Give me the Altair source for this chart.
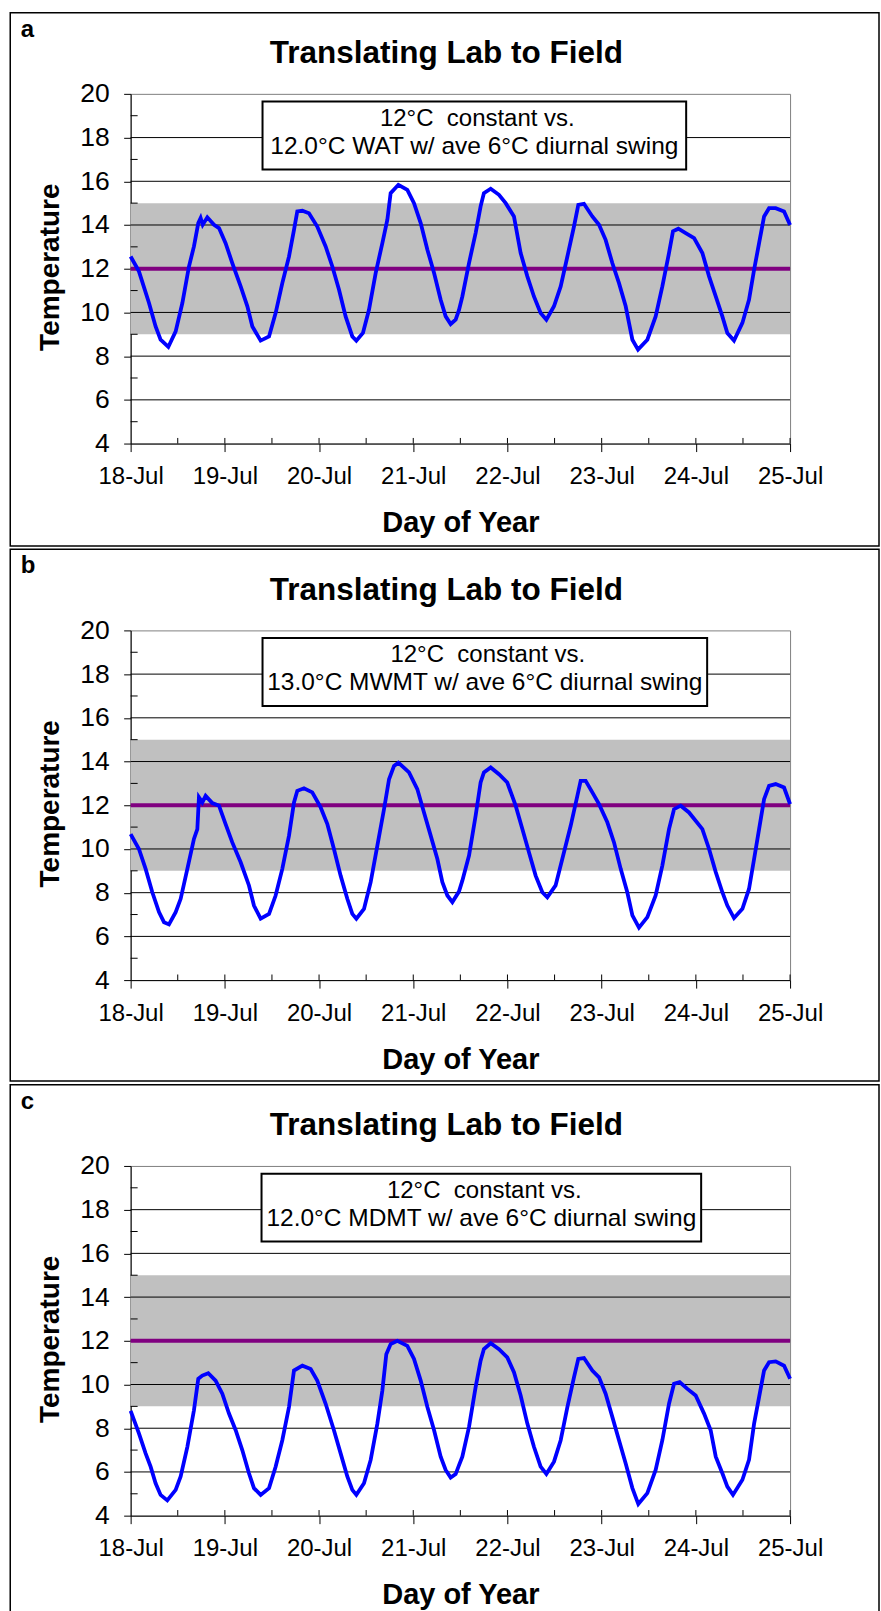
import altair as alt
import pandas as pd

FONT = "Liberation Sans"
W, H = 660, 350

chart_title = "Translating Lab to Field"
panel_letters = ["a", "b", "c"]
caption_top = "12°C\u00a0 constant vs."
caption_bottom = [
    "12.0°C WAT w/ ave 6°C diurnal swing",
    "13.0°C MWMT w/ ave 6°C diurnal swing",
    "12.0°C MDMT w/ ave 6°C diurnal swing",
]
tick_labels = ["18-Jul", "19-Jul", "20-Jul", "21-Jul", "22-Jul", "23-Jul", "24-Jul", "25-Jul"]
day_ticks = [0, 1, 2, 3, 4, 5, 6, 7]
half_day_ticks = [0.5, 1.5, 2.5, 3.5, 4.5, 5.5, 6.5]
y_ticks = [4, 6, 8, 10, 12, 14, 16, 18, 20]
grid_levels = [6, 8, 10, 12, 14, 16, 18]
minor_y = [5, 7, 9, 11, 13, 15, 17, 19]
band_low, band_high = 9, 15
constant_temp = 12

# (day since 18-Jul, temperature)
a_readings = [
    (0.000, 12.56), (0.088, 11.88), (0.195, 10.43), (0.265, 9.36), (0.318, 8.75),
    (0.400, 8.42), (0.478, 9.13), (0.549, 10.43), (0.619, 12.10), (0.672, 13.02),
    (0.718, 14.09), (0.743, 14.32), (0.765, 14.01), (0.814, 14.35), (0.885, 14.01),
    (0.938, 13.86), (1.008, 13.17), (1.079, 12.26), (1.168, 11.19), (1.239, 10.28),
    (1.292, 9.36), (1.380, 8.71), (1.469, 8.90), (1.539, 9.97), (1.610, 11.34),
    (1.681, 12.56), (1.734, 13.78), (1.769, 14.62), (1.823, 14.65), (1.893, 14.54),
    (1.981, 13.93), (2.070, 13.02), (2.141, 12.10), (2.212, 11.04), (2.282, 9.82),
    (2.353, 8.90), (2.396, 8.71), (2.466, 9.06), (2.530, 10.12), (2.601, 11.80),
    (2.672, 13.17), (2.725, 14.24), (2.760, 15.46), (2.842, 15.84), (2.937, 15.61),
    (3.008, 15.00), (3.079, 14.09), (3.150, 12.87), (3.221, 11.80), (3.291, 10.58),
    (3.344, 9.82), (3.397, 9.47), (3.450, 9.67), (3.485, 10.10), (3.521, 10.73),
    (3.592, 12.26), (3.662, 13.63), (3.715, 14.85), (3.750, 15.46), (3.822, 15.66),
    (3.910, 15.38), (3.981, 15.00), (4.069, 14.39), (4.140, 12.72), (4.211, 11.65),
    (4.281, 10.73), (4.352, 9.97), (4.413, 9.67), (4.494, 10.28), (4.565, 11.19),
    (4.636, 12.56), (4.706, 13.93), (4.752, 14.92), (4.812, 14.97), (4.901, 14.39),
    (4.972, 14.01), (5.042, 13.32), (5.113, 12.26), (5.184, 11.34), (5.255, 10.28),
    (5.290, 9.52), (5.326, 8.75), (5.386, 8.30), (5.485, 8.75), (5.573, 9.82),
    (5.644, 11.19), (5.715, 12.72), (5.757, 13.71), (5.814, 13.83), (5.892, 13.63),
    (5.981, 13.40), (6.069, 12.72), (6.140, 11.65), (6.211, 10.73), (6.281, 9.82),
    (6.334, 9.06), (6.405, 8.71), (6.494, 9.52), (6.564, 10.58), (6.618, 11.95),
    (6.671, 13.17), (6.724, 14.39), (6.777, 14.77), (6.847, 14.77), (6.936, 14.62),
    (7.000, 14.00),
]
b_readings = [
    (0.000, 10.68), (0.088, 10.00), (0.159, 9.09), (0.230, 8.02), (0.301, 7.11),
    (0.354, 6.65), (0.407, 6.55), (0.478, 7.11), (0.531, 7.72), (0.602, 9.09),
    (0.672, 10.46), (0.708, 10.91), (0.725, 12.36), (0.761, 12.13), (0.796, 12.43),
    (0.867, 12.10), (0.938, 11.98), (1.008, 11.14), (1.079, 10.30), (1.168, 9.39),
    (1.256, 8.33), (1.309, 7.41), (1.380, 6.81), (1.469, 7.03), (1.539, 7.87),
    (1.610, 9.09), (1.681, 10.61), (1.734, 12.13), (1.769, 12.66), (1.840, 12.78),
    (1.928, 12.59), (2.017, 11.90), (2.088, 11.14), (2.158, 10.00), (2.229, 8.78),
    (2.300, 7.72), (2.353, 7.03), (2.396, 6.81), (2.477, 7.26), (2.548, 8.48),
    (2.619, 10.15), (2.690, 11.83), (2.743, 13.19), (2.796, 13.80), (2.842, 13.95),
    (2.955, 13.50), (3.043, 12.74), (3.114, 11.67), (3.185, 10.61), (3.256, 9.54),
    (3.309, 8.48), (3.362, 7.87), (3.415, 7.57), (3.485, 8.05), (3.521, 8.55),
    (3.592, 9.70), (3.662, 11.52), (3.715, 13.04), (3.750, 13.50), (3.822, 13.73),
    (3.910, 13.42), (3.998, 13.04), (4.087, 11.98), (4.158, 10.91), (4.228, 9.85),
    (4.299, 8.78), (4.370, 8.02), (4.423, 7.79), (4.511, 8.33), (4.582, 9.54),
    (4.671, 11.06), (4.742, 12.43), (4.777, 13.12), (4.830, 13.12), (4.901, 12.59),
    (4.972, 12.05), (5.060, 11.22), (5.131, 10.30), (5.202, 9.09), (5.272, 8.02),
    (5.326, 6.96), (5.396, 6.40), (5.485, 6.88), (5.573, 7.87), (5.644, 9.24),
    (5.715, 10.91), (5.768, 11.82), (5.839, 11.98), (5.927, 11.67), (6.069, 10.91),
    (6.140, 10.00), (6.211, 8.94), (6.281, 8.02), (6.334, 7.41), (6.405, 6.84),
    (6.494, 7.26), (6.564, 8.17), (6.618, 9.54), (6.671, 10.91), (6.724, 12.28),
    (6.777, 12.89), (6.847, 12.97), (6.936, 12.81), (7.000, 12.05),
]
c_readings = [
    (0.000, 8.79), (0.088, 7.76), (0.159, 6.85), (0.212, 6.24), (0.265, 5.48),
    (0.318, 4.95), (0.389, 4.70), (0.478, 5.18), (0.531, 5.79), (0.602, 7.15),
    (0.672, 8.82), (0.718, 10.26), (0.761, 10.41), (0.824, 10.52), (0.902, 10.18),
    (0.973, 9.58), (1.044, 8.67), (1.115, 7.91), (1.185, 7.00), (1.256, 5.94),
    (1.309, 5.26), (1.380, 4.95), (1.469, 5.26), (1.539, 6.24), (1.610, 7.45),
    (1.681, 8.97), (1.734, 10.64), (1.823, 10.86), (1.911, 10.71), (1.981, 10.18),
    (2.070, 9.12), (2.158, 7.91), (2.229, 6.85), (2.300, 5.79), (2.353, 5.18),
    (2.396, 4.95), (2.477, 5.48), (2.548, 6.55), (2.619, 8.21), (2.672, 9.73),
    (2.714, 11.39), (2.760, 11.85), (2.831, 12.00), (2.937, 11.77), (3.008, 11.17),
    (3.079, 10.18), (3.150, 8.97), (3.221, 7.91), (3.291, 6.70), (3.344, 6.09),
    (3.397, 5.74), (3.450, 5.90), (3.485, 6.30), (3.521, 6.70), (3.592, 8.06),
    (3.662, 9.88), (3.715, 11.09), (3.750, 11.62), (3.822, 11.89), (3.910, 11.62),
    (3.998, 11.24), (4.069, 10.56), (4.140, 9.50), (4.211, 8.21), (4.281, 7.15),
    (4.352, 6.24), (4.413, 5.91), (4.494, 6.47), (4.565, 7.45), (4.636, 8.97),
    (4.706, 10.33), (4.752, 11.17), (4.812, 11.21), (4.901, 10.64), (4.972, 10.33),
    (5.042, 9.58), (5.113, 8.52), (5.184, 7.45), (5.255, 6.39), (5.326, 5.26),
    (5.389, 4.53), (5.485, 5.03), (5.573, 6.09), (5.644, 7.45), (5.715, 9.12),
    (5.768, 10.03), (5.828, 10.11), (5.910, 9.80), (5.998, 9.50), (6.087, 8.67),
    (6.157, 7.91), (6.211, 6.70), (6.281, 5.94), (6.334, 5.33), (6.394, 4.95),
    (6.494, 5.64), (6.564, 6.55), (6.618, 8.21), (6.671, 9.42), (6.724, 10.64),
    (6.777, 11.02), (6.847, 11.06), (6.936, 10.86), (7.000, 10.26),
]

xs = alt.Scale(domain=[0, 7], nice=False, zero=False)
ys = alt.Scale(domain=[4, 20], nice=False, zero=False)
label_expr = "[" + ",".join("'%s'" % t for t in tick_labels) + "][datum.value]"

x_axis = alt.Axis(
    values=day_ticks, labelExpr=label_expr, title="Day of Year", grid=False,
    tickSize=8, tickColor="black", domainColor="black", labelColor="black",
    labelFont=FONT, labelFontSize=24, labelPadding=32, labelBaseline="alphabetic",
    labelFlush=False, labelOverlap=False,
    titleFont=FONT, titleFontSize=29, titleFontWeight="bold", titleColor="black",
    titleBaseline="alphabetic", titleY=88,
)
y_axis = alt.Axis(
    values=y_ticks, title="Temperature", grid=False,
    tickSize=7, tickColor="black", domainColor="black", labelColor="black",
    labelFont=FONT, labelFontSize=26.5, labelPadding=14.5,
    labelFlush=False, labelOverlap=False,
    titleFont=FONT, titleFontSize=28, titleFontWeight="bold", titleColor="black",
    titleBaseline="alphabetic", titleAngle=270, titleX=-72, titleY=H / 2 - 2,
)

# box extents (pixels within the plot) sized to each caption
box_x = [(132, 556), (132, 577), (131, 571)]
frame_bottom = [452.5, 451, 449]


def panel(i, readings):
    curve = pd.DataFrame(readings, columns=["day", "temp"])
    band = pd.DataFrame({"start": [0], "end": [7], "lo": [band_low], "hi": [band_high]})
    grid = pd.DataFrame({"level": grid_levels})
    const = pd.DataFrame({"level": [constant_temp]})
    ymin = pd.DataFrame({"level": minor_y})
    xin = pd.DataFrame({"day": day_ticks[1:] + half_day_ticks})

    band_l = alt.Chart(band).mark_rect(color="#c0c0c0").encode(
        x=alt.X("start:Q", scale=xs, axis=x_axis), x2="end:Q",
        y=alt.Y("lo:Q", scale=ys, axis=y_axis), y2="hi:Q")
    grid_l = alt.Chart(grid).mark_rule(color="black", strokeWidth=1).encode(
        y=alt.Y("level:Q", scale=ys, axis=y_axis), x=alt.value(0), x2=alt.value(W))
    const_l = alt.Chart(const).mark_rule(color="#800080", strokeWidth=4).encode(
        y=alt.Y("level:Q", scale=ys, axis=y_axis), x=alt.value(0), x2=alt.value(W))
    line_l = alt.Chart(curve).mark_line(color="#0000ff", strokeWidth=3.8).encode(
        x=alt.X("day:Q", scale=xs, axis=x_axis),
        y=alt.Y("temp:Q", scale=ys, axis=y_axis))
    ymin_l = alt.Chart(ymin).mark_rule(color="black", strokeWidth=1).encode(
        y=alt.Y("level:Q", scale=ys, axis=y_axis), x=alt.value(0), x2=alt.value(7))
    xin_l = alt.Chart(xin).mark_rule(color="black", strokeWidth=1).encode(
        x=alt.X("day:Q", scale=xs, axis=x_axis), y=alt.value(H - 5.6), y2=alt.value(H))
    bx0, bx1 = box_x[i]
    box_l = alt.Chart(pd.DataFrame({"k": [0]})).mark_rect(
        fill="white", stroke="black", strokeWidth=2).encode(
        x=alt.value(bx0), x2=alt.value(bx1), y=alt.value(7.7), y2=alt.value(75.7))
    cx = (bx0 + bx1) / 2
    cap1 = alt.Chart(pd.DataFrame({"t": [caption_top]})).mark_text(
        font=FONT, fontSize=24, color="black", align="center", baseline="middle").encode(
        text="t:N", x=alt.value(cx + 3), y=alt.value(25))
    cap2 = alt.Chart(pd.DataFrame({"t": [caption_bottom[i]]})).mark_text(
        font=FONT, fontSize=24.5, color="black", align="center", baseline="middle").encode(
        text="t:N", x=alt.value(cx), y=alt.value(53))
    title_l = alt.Chart(pd.DataFrame({"t": [chart_title]})).mark_text(
        font=FONT, fontSize=31.5, fontWeight="bold", color="black",
        align="center", baseline="alphabetic").encode(
        text="t:N", x=alt.value(316), y=alt.value(-30.8))
    letter_l = alt.Chart(pd.DataFrame({"t": [panel_letters[i]]})).mark_text(
        font=FONT, fontSize=24, fontWeight="bold", color="black",
        align="left", baseline="alphabetic").encode(
        text="t:N", x=alt.value(-110), y=alt.value(-57.3))
    frame_l = alt.Chart(pd.DataFrame({"k": [0]})).mark_rect(
        fillOpacity=0, stroke="black", strokeWidth=1.5).encode(
        x=alt.value(-120.5), x2=alt.value(749), y=alt.value(-81.3),
        y2=alt.value(frame_bottom[i]))
    return alt.layer(band_l, grid_l, const_l, line_l, ymin_l, xin_l, box_l,
                     cap1, cap2, title_l, letter_l, frame_l).properties(width=W, height=H)


chart = alt.vconcat(
    panel(0, a_readings), panel(1, b_readings), panel(2, c_readings), spacing=0
).properties(
    padding={"left": 8.75, "top": 10.25, "right": 0, "bottom": 0},
    background="white",
).configure_view(stroke="#808080", strokeWidth=1)

chart.save("out.html", embed_options={"renderer": "svg", "actions": False})
